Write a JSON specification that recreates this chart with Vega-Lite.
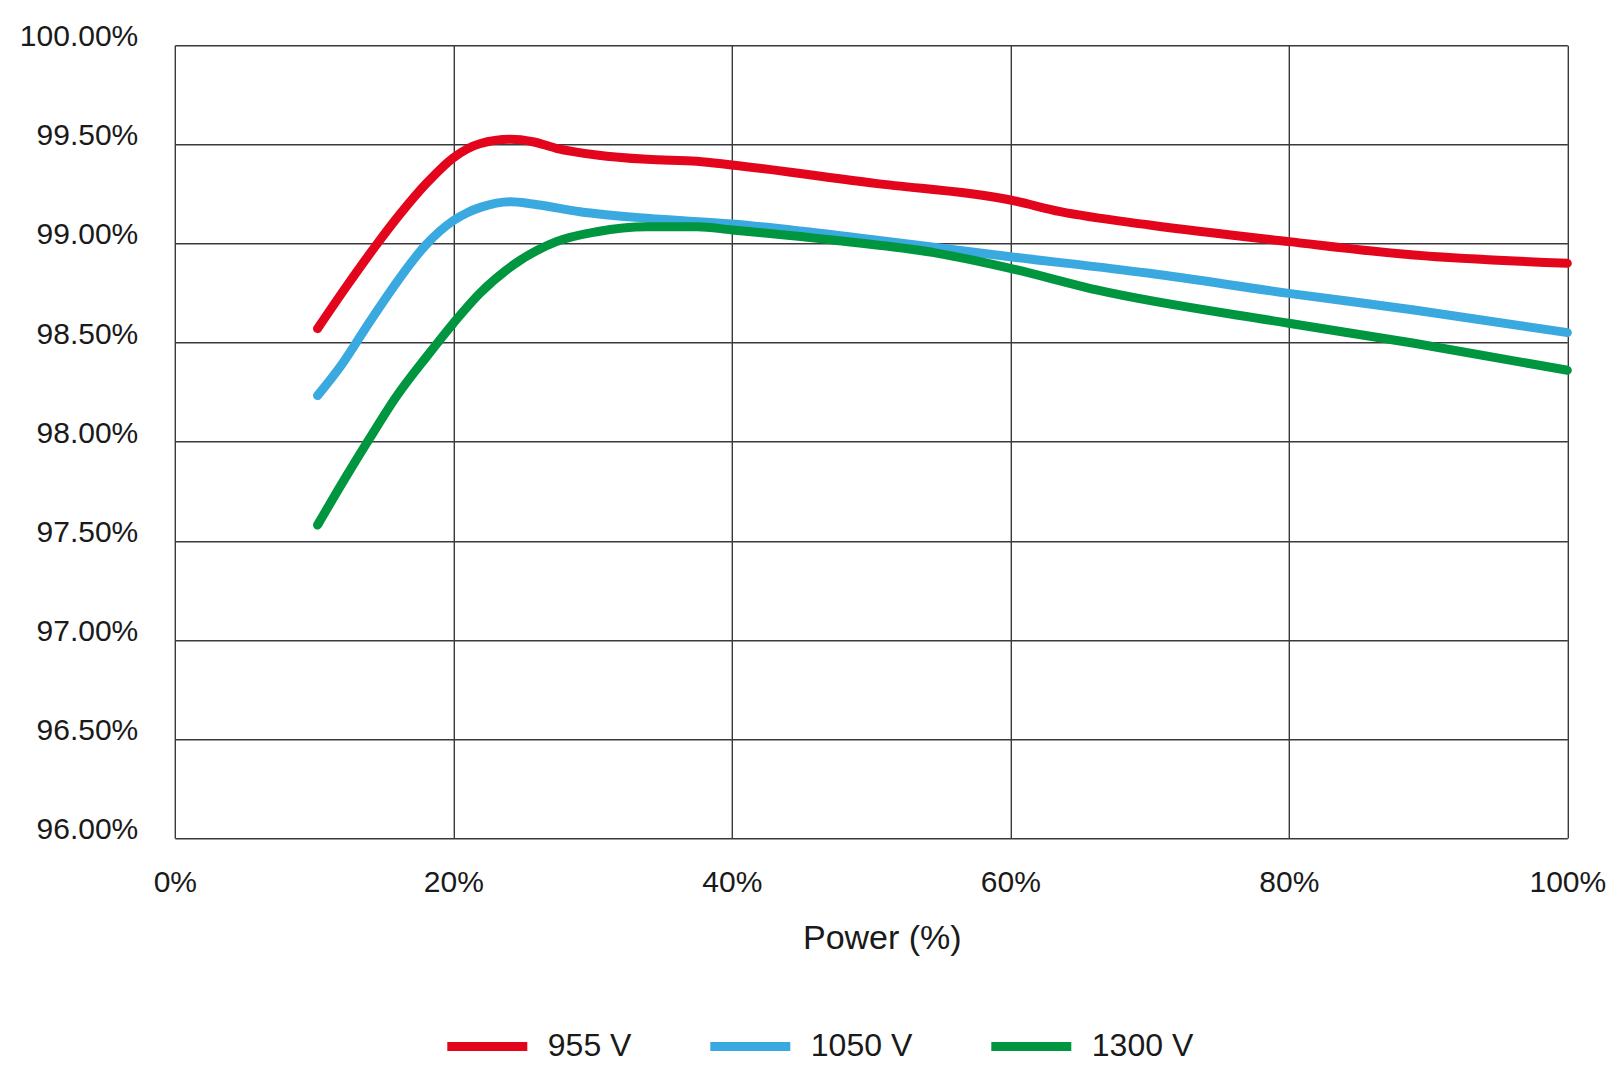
{
  "$schema": "https://vega.github.io/schema/vega-lite/v6.json",
  "width": 1392.5,
  "height": 792.8,
  "autosize": {"type": "none"},
  "padding": {"left": 174.8, "top": 45.2, "right": 54.7, "bottom": 242},
  "background": "white",
  "config": {
    "view": {"stroke": null},
    "font": "Liberation Sans",
    "axis": {"labelColor": "#1a1a1a", "titleColor": "#1a1a1a", "labelFont": "Liberation Sans", "titleFont": "Liberation Sans"},
    "legend": {"labelFont": "Liberation Sans"}
  },
  "data": {
    "values": [
      {"series": "955 V", "power": 10.25, "eff": 98.57},
      {"series": "955 V", "power": 12.3, "eff": 98.78},
      {"series": "955 V", "power": 14.5, "eff": 98.995},
      {"series": "955 V", "power": 16.2, "eff": 99.15},
      {"series": "955 V", "power": 18.1, "eff": 99.305},
      {"series": "955 V", "power": 20, "eff": 99.432},
      {"series": "955 V", "power": 21.9, "eff": 99.503},
      {"series": "955 V", "power": 24.1, "eff": 99.525},
      {"series": "955 V", "power": 25.7, "eff": 99.513},
      {"series": "955 V", "power": 27.4, "eff": 99.48},
      {"series": "955 V", "power": 30.3, "eff": 99.446},
      {"series": "955 V", "power": 33.9, "eff": 99.424},
      {"series": "955 V", "power": 37.5, "eff": 99.415},
      {"series": "955 V", "power": 40, "eff": 99.396},
      {"series": "955 V", "power": 50.3, "eff": 99.303},
      {"series": "955 V", "power": 60, "eff": 99.219},
      {"series": "955 V", "power": 63.6, "eff": 99.16},
      {"series": "955 V", "power": 70, "eff": 99.093},
      {"series": "955 V", "power": 80, "eff": 99.009},
      {"series": "955 V", "power": 89, "eff": 98.941},
      {"series": "955 V", "power": 100, "eff": 98.9},
      {"series": "1050 V", "power": 10.25, "eff": 98.232},
      {"series": "1050 V", "power": 12, "eff": 98.39},
      {"series": "1050 V", "power": 14, "eff": 98.605},
      {"series": "1050 V", "power": 16, "eff": 98.81},
      {"series": "1050 V", "power": 17, "eff": 98.905},
      {"series": "1050 V", "power": 18, "eff": 98.99},
      {"series": "1050 V", "power": 19, "eff": 99.06},
      {"series": "1050 V", "power": 20, "eff": 99.115},
      {"series": "1050 V", "power": 21, "eff": 99.155},
      {"series": "1050 V", "power": 22, "eff": 99.183},
      {"series": "1050 V", "power": 24.1, "eff": 99.21},
      {"series": "1050 V", "power": 25.7, "eff": 99.199},
      {"series": "1050 V", "power": 29.1, "eff": 99.16},
      {"series": "1050 V", "power": 33.9, "eff": 99.127},
      {"series": "1050 V", "power": 40, "eff": 99.098},
      {"series": "1050 V", "power": 50.3, "eff": 99.017},
      {"series": "1050 V", "power": 60, "eff": 98.933},
      {"series": "1050 V", "power": 70, "eff": 98.849},
      {"series": "1050 V", "power": 80, "eff": 98.748},
      {"series": "1050 V", "power": 89, "eff": 98.664},
      {"series": "1050 V", "power": 100, "eff": 98.55},
      {"series": "1300 V", "power": 10.25, "eff": 97.579},
      {"series": "1300 V", "power": 12.3, "eff": 97.823},
      {"series": "1300 V", "power": 14, "eff": 98.017},
      {"series": "1300 V", "power": 15.9, "eff": 98.226},
      {"series": "1300 V", "power": 18.1, "eff": 98.43},
      {"series": "1300 V", "power": 20, "eff": 98.597},
      {"series": "1300 V", "power": 21.9, "eff": 98.748},
      {"series": "1300 V", "power": 24.3, "eff": 98.891},
      {"series": "1300 V", "power": 27.4, "eff": 99.009},
      {"series": "1300 V", "power": 30.3, "eff": 99.059},
      {"series": "1300 V", "power": 33.9, "eff": 99.084},
      {"series": "1300 V", "power": 37.5, "eff": 99.084},
      {"series": "1300 V", "power": 40, "eff": 99.068},
      {"series": "1300 V", "power": 47.2, "eff": 99.017},
      {"series": "1300 V", "power": 54.8, "eff": 98.95},
      {"series": "1300 V", "power": 60, "eff": 98.874},
      {"series": "1300 V", "power": 66.2, "eff": 98.765},
      {"series": "1300 V", "power": 80, "eff": 98.597},
      {"series": "1300 V", "power": 89, "eff": 98.496},
      {"series": "1300 V", "power": 100, "eff": 98.36}
    ]
  },
  "mark": {"type": "line", "strokeWidth": 9, "strokeCap": "round", "strokeJoin": "round", "interpolate": "monotone", "clip": false},
  "encoding": {
    "x": {
      "field": "power", "type": "quantitative",
      "scale": {"domain": [0, 100], "nice": false, "zero": false},
      "axis": {
        "title": "Power (%)",
        "values": [0, 20, 40, 60, 80, 100],
        "labelExpr": "datum.value + '%'",
        "labelFontSize": 30,
        "labelPadding": 29,
        "labelBaseline": "top",
        "labelFlush": false,
        "labelOverlap": false,
        "ticks": false,
        "domain": false,
        "grid": true,
        "gridColor": "#3a3a3a",
        "gridWidth": 1.4,
        "gridOpacity": 1,
        "titleFontSize": 34,
        "titleFontWeight": "normal",
        "titleX": 707,
        "titleY": 100,
        "titleBaseline": "middle",
        "titleAlign": "center"
      }
    },
    "y": {
      "field": "eff", "type": "quantitative",
      "scale": {"domain": [96, 100], "nice": false, "zero": false},
      "axis": {
        "title": null,
        "values": [96, 96.5, 97, 97.5, 98, 98.5, 99, 99.5, 100],
        "labelExpr": "format(datum.value, '.2f') + '%'",
        "labelFontSize": 30,
        "labelPadding": 37,
        "labelOffset": -8.5,
        "labelFlush": false,
        "labelOverlap": false,
        "labelBound": false,
        "ticks": false,
        "domain": false,
        "grid": true,
        "gridColor": "#3a3a3a",
        "gridWidth": 1.4,
        "gridOpacity": 1
      }
    },
    "color": {
      "field": "series", "type": "nominal",
      "scale": {"domain": ["955 V", "1050 V", "1300 V"], "range": ["#E3051B", "#3AA9E0", "#00963F"]},
      "legend": {
        "title": null,
        "orient": "none",
        "direction": "horizontal",
        "legendX": 268,
        "legendY": 956.5,
        "symbolType": "stroke",
        "symbolSize": 6400,
        "symbolStrokeWidth": 9,
        "labelFontSize": 32,
        "labelOffset": 16,
        "columnPadding": 60,
        "labelColor": "#1a1a1a",
        "padding": 0
      }
    }
  }
}
